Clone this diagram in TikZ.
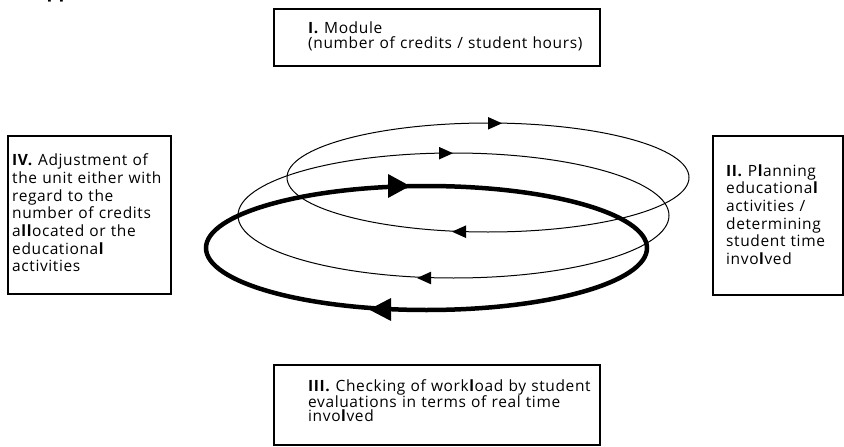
\documentclass[tikz,border=0pt]{standalone}
\usepackage{fontspec}
\newfontfamily\boxfont{Open Sans}[LetterSpace=4.0]
\newfontfamily\headfont{Open Sans}
\newcommand{\myarrR}[4]{\fill (#1,#2) -- ++(-#3,#4) -- ++(0,-2*#4) -- cycle;}
\newcommand{\myarrL}[4]{\fill (#1,#2) -- ++(#3,#4) -- ++(0,-2*#4) -- cycle;}
\tikzset{
  boxsty/.style={draw, line width=2pt, inner sep=0pt, outer sep=0pt},
  txtwide/.style={font=\boxfont\fontsize{15.5}{14}\selectfont, align=left, anchor=base west, inner sep=0pt, text width=300pt},
  txtnarrow/.style={font=\boxfont\fontsize{15.5}{17.7}\selectfont, align=left, anchor=base west, inner sep=0pt, text width=#1},
  thinloop/.style={line width=1pt},
  thickloop/.style={line width=4.5pt},
}
\begin{document}
\begin{tikzpicture}[x=1pt,y=-1pt]
\useasboundingbox[fill=white] (0,0) rectangle (844,447);
% cropped heading remnant
\node[anchor=base west, inner sep=0pt, font=\headfont\bfseries\fontsize{19}{19}\selectfont] (frag) at (46.5,-2) {pp};
% boxes
\node[boxsty, minimum width=326.5pt, minimum height=57pt] (box1) at (436.75,37.5) {};
\node[boxsty, minimum width=130pt, minimum height=158.5pt] (box2) at (777.5,215.25) {};
\node[boxsty, minimum width=326.5pt, minimum height=80pt] (box3) at (436.75,405) {};
\node[boxsty, minimum width=162.8pt, minimum height=158.5pt] (box4) at (89.1,214.75) {};
% texts
\node[txtwide] (t1) at (308,34) {\textbf{I.} Module\\(number of credits / student hours)};
\node[txtnarrow=125pt] (t2) at (726,176) {\textbf{II.} P\textbf{l}anning\\educationa\textbf{l}\\activities /\\determining\\student time\\invo\textbf{l}ved};
\node[txtwide] (t3) at (308,391) {\textbf{III.} Checking of work\textbf{l}oad by student\\evaluations in terms of real time\\invo\textbf{l}ved};
\node[txtnarrow=160pt] (t4) at (12,165.7) {\textbf{IV.} Adjustment of\\the unit either with\\regard to the\\number of credits\\a\textbf{ll}ocated or the\\educationa\textbf{l}\\activities};
% loops
\draw[thinloop] (488,177.5) ellipse [x radius=201pt, y radius=54.5pt];
\draw[thinloop] (453.5,215.5) ellipse [x radius=215.5pt, y radius=62.5pt];
\draw[thickloop] (426.5,248) ellipse [x radius=220.5pt, y radius=62pt];
% arrowheads
\myarrR{502}{123.3}{14}{6.3}
\myarrL{452}{231.7}{14}{6.3}
\myarrR{453}{153.2}{14}{6.3}
\myarrL{417}{278}{14}{6.3}
\myarrR{410}{186}{22}{12}
\myarrL{369}{309.5}{22}{11.5}
\end{tikzpicture}
\end{document}
